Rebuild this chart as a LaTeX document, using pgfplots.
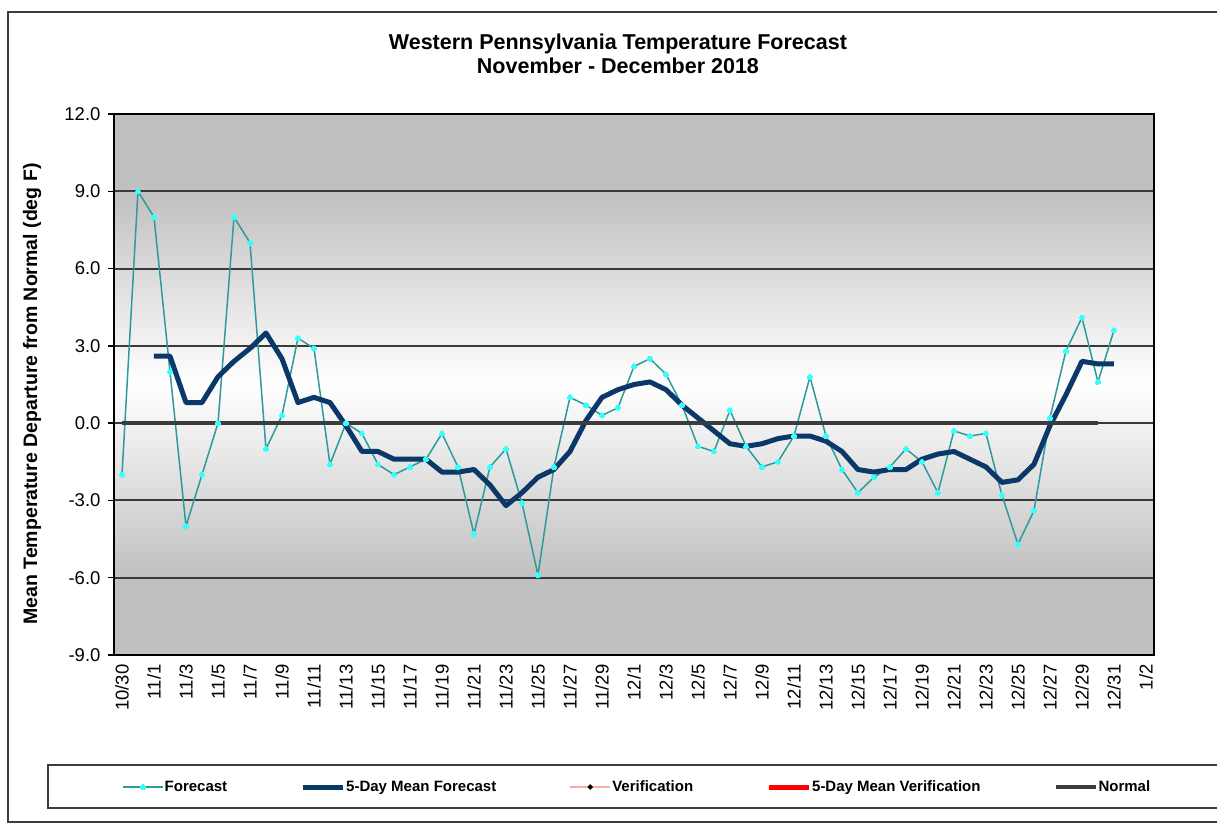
\documentclass[border=0pt]{standalone}
\usepackage{pgfplots}
\pgfplotsset{compat=1.18}
\usepackage{fontspec}
\setmainfont{Liberation Sans}
\definecolor{bgg}{HTML}{C0C0C0}
\definecolor{fcline}{HTML}{2E9A9A}
\definecolor{fcmark}{HTML}{33FFFF}
\definecolor{meanc}{HTML}{0A3868}
\definecolor{normc}{HTML}{3C3C3C}
\definecolor{gridc}{HTML}{3A3A3A}
\definecolor{verc}{HTML}{FFAAAA}
\pgfdeclareverticalshading{plotbg}{100bp}{color(0bp)=(bgg); color(32.14bp)=(bgg); color(50bp)=(white); color(67.86bp)=(bgg); color(100bp)=(bgg)}

\pgfplotstableread{
x y
0 -2.0
1 9.0
2 8.0
3 2.0
4 -4.0
5 -2.0
6 0.0
7 8.0
8 7.0
9 -1.0
10 0.3
11 3.3
12 2.9
13 -1.6
14 0.0
15 -0.4
16 -1.6
17 -2.0
18 -1.7
19 -1.4
20 -0.4
21 -1.7
22 -4.3
23 -1.7
24 -1.0
25 -3.1
26 -5.9
27 -1.7
28 1.0
29 0.7
30 0.3
31 0.6
32 2.2
33 2.5
34 1.9
35 0.7
36 -0.9
37 -1.1
38 0.5
39 -0.9
40 -1.7
41 -1.5
42 -0.5
43 1.8
44 -0.5
45 -1.8
46 -2.7
47 -2.1
48 -1.7
49 -1.0
50 -1.5
51 -2.7
52 -0.3
53 -0.5
54 -0.4
55 -2.8
56 -4.7
57 -3.4
58 0.2
59 2.8
60 4.1
61 1.6
62 3.6
}\forecast

\pgfplotstableread{
x y
2 2.6
3 2.6
4 0.8
5 0.8
6 1.8
7 2.4
8 2.9
9 3.5
10 2.5
11 0.8
12 1.0
13 0.8
14 -0.1
15 -1.1
16 -1.1
17 -1.4
18 -1.4
19 -1.4
20 -1.9
21 -1.9
22 -1.8
23 -2.4
24 -3.2
25 -2.7
26 -2.1
27 -1.8
28 -1.1
29 0.1
30 1.0
31 1.3
32 1.5
33 1.6
34 1.3
35 0.7
36 0.2
37 -0.3
38 -0.8
39 -0.9
40 -0.8
41 -0.6
42 -0.5
43 -0.5
44 -0.7
45 -1.1
46 -1.8
47 -1.9
48 -1.8
49 -1.8
50 -1.4
51 -1.2
52 -1.1
53 -1.4
54 -1.7
55 -2.3
56 -2.2
57 -1.6
58 -0.1
59 1.1
60 2.4
61 2.3
62 2.3
}\meanfc

\pgfplotstableread{
x y
0 0
61 0
}\normal

\begin{document}
\begin{tikzpicture}[x=1pt,y=1pt]
\useasboundingbox (0,0) rectangle (1217,-829);
\clip (0,0) rectangle (1217,-829);
\fill[white] (0,0) rectangle (1217,-829);
\draw[color=normc, line width=1.5pt] (1230,-12) -- (8,-12) -- (8,-822) -- (1230,-822);
\draw[color=normc, line width=1.5pt] (1230,-765) -- (48,-765) -- (48,-808) -- (1230,-808);
\begin{axis}[
  at={(114pt,-655pt)}, anchor=south west,
  scale only axis, width=1040pt, height=541pt,
  xmin=-0.5, xmax=64.5, ymin=-9, ymax=12,
  axis background/.style={shading=plotbg},
  axis line style={black, line width=2pt},
  ymajorgrids, major grid style={gridc, line width=2pt},
  ytick={-9,-6,-3,0,3,6,9,12},
  yticklabels={-9.0,-6.0,-3.0,0.0,3.0,6.0,9.0,12.0},
  xtick={0,2,...,64},
  xticklabels={10/30,11/1,11/3,11/5,11/7,11/9,11/11,11/13,11/15,11/17,11/19,11/21,11/23,11/25,11/27,11/29,12/1,12/3,12/5,12/7,12/9,12/11,12/13,12/15,12/17,12/19,12/21,12/23,12/25,12/27,12/29,12/31,1/2},
  xtick style={draw=none},
  ytick style={black, line width=1.5pt},
  tick pos=left,
  tick align=outside, major tick length=6pt,
  ticklabel style={font=\fontsize{18.5}{20}\selectfont},
  xticklabel style={rotate=90, anchor=east},
  yticklabel style={anchor=east, xshift=-4pt},
  ylabel={Mean Temperature Departure from Normal (deg F)},
  every axis y label/.style={at={(rel axis cs:-0.0788,0.4824)}, rotate=90, anchor=center, font=\bfseries\fontsize{19.5}{22}\selectfont},
  title={Western Pennsylvania Temperature Forecast\\November - December 2018},
  every axis title/.style={align=center, font=\bfseries\fontsize{21.5}{24}\selectfont, at={(rel axis cs:0.4846,1.1109)}, anchor=center},
  legend columns=5,
  legend cell align=left,
  legend style={draw=none, fill=none, inner sep=0pt, at={(0.0077,-0.244)}, anchor=west,
    font=\bfseries\fontsize{15}{18}\selectfont,
    nodes={inner sep=1pt},
    /tikz/every even column/.append style={column sep=72pt}},
  legend image code/.code={\draw[mark repeat=2,mark phase=2,#1] plot coordinates {(0pt,0pt) (20pt,0pt) (40pt,0pt)};},
]
\addplot[fcline, line width=1.5pt, mark=*, mark size=2.5pt, mark options={fill=fcmark, draw=fcmark, line width=0pt}] table[x=x,y=y] {\forecast};
\addlegendentry{Forecast}
\addplot[meanc, line width=5pt, line join=round, no markers] table[x=x,y=y] {\meanfc};
\addlegendentry{5-Day Mean Forecast}
\addlegendimage{verc, line width=2pt, mark=*, mark size=1.5pt, mark options={black, fill=black}}
\addlegendentry{Verification}
\addlegendimage{red, line width=5pt, no markers}
\addlegendentry{5-Day Mean Verification}
\addplot[normc, line width=4pt, no markers] table[x=x,y=y] {\normal};
\addlegendentry{Normal}
\end{axis}
\end{tikzpicture}
\end{document}
